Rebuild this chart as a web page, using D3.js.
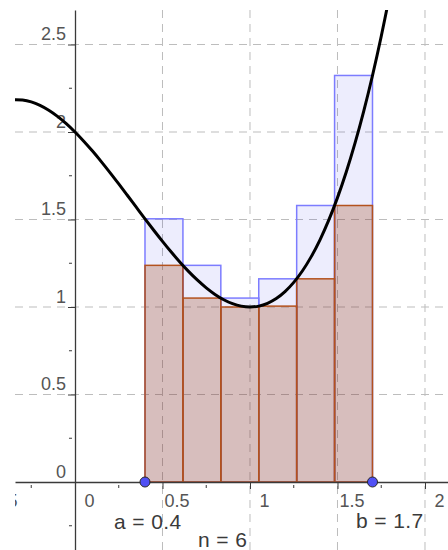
<!DOCTYPE html>
<html>
<head>
<meta charset="utf-8">
<script src="https://cdn.jsdelivr.net/npm/d3@7"></script>
<style>
  html, body { margin: 0; padding: 0; background: #fff; }
  svg { display: block; font-family: "Liberation Sans", Arial, sans-serif; }
</style>
</head>
<body>
<svg id="chart" width="448" height="550"></svg>
<script>
// ---- data ----
const pointA = 0.4;
const pointB = 1.7;
const nParts = 6;
const partitionEdges = [0.4, 0.6167, 0.8333, 1.05, 1.2667, 1.4833, 1.7];
const upperHeights = [1.504, 1.238, 1.051, 1.161, 1.580, 2.323];
const lowerHeights = [1.238, 1.051, 1.000, 1.005, 1.161, 1.580];
const curveX = [-0.35, -0.3, -0.25, -0.2, -0.15, -0.1, -0.05, 0, 0.05, 0.1, 0.15, 0.2, 0.25, 0.3, 0.35, 0.4, 0.45, 0.5, 0.55, 0.6, 0.65, 0.7, 0.75, 0.8, 0.85, 0.9, 0.95, 1.0, 1.05, 1.1, 1.15, 1.2, 1.25, 1.3, 1.35, 1.4, 1.45, 1.5, 1.55, 1.6, 1.65, 1.7, 1.75, 1.8];
const curveY = [2.1846, 2.183, 2.1719, 2.152, 2.1241, 2.089, 2.0474, 2.0, 1.9476, 1.891, 1.8309, 1.768, 1.7031, 1.637, 1.5704, 1.504, 1.4386, 1.375, 1.3139, 1.256, 1.2021, 1.153, 1.1094, 1.072, 1.0416, 1.019, 1.0049, 1.0, 1.0051, 1.021, 1.0484, 1.088, 1.1406, 1.207, 1.2879, 1.384, 1.4961, 1.625, 1.7714, 1.936, 2.1196, 2.323, 2.5469, 2.792];
const xMajorTicks = [-0.5, 0, 0.5, 1, 1.5, 2];
const xMinorTicks = [-0.25, 0.25, 0.75, 1.25, 1.75];
const yMajorTicks = [0, 0.5, 1, 1.5, 2, 2.5];
const yMinorTicks = [-0.25, 0.25, 0.75, 1.25, 1.75, 2.25];
const xTickLabels = ["-0.5", "0", "0.5", "1", "1.5", "2"];
const yTickLabels = ["0", "0.5", "1", "1.5", "2", "2.5"];
const xGrid = [0.5, 1, 1.5, 2];
const yGrid = [0.5, 1, 1.5, 2, 2.5];

// ---- layout ----
const W = 448, H = 550;
const plot = { left: 15, top: 10, right: 448, bottom: 550 };
const svg = d3.select("#chart");

const x = d3.scaleLinear().domain([-0.342857, 2.131429]).range([plot.left, plot.right]);
const y = d3.scaleLinear().domain([-0.388571, 2.697143]).range([plot.bottom, plot.top]);

svg.append("defs").append("clipPath").attr("id", "clip")
  .append("rect").attr("x", plot.left).attr("y", plot.top)
  .attr("width", plot.right - plot.left).attr("height", plot.bottom - plot.top);

const g = svg.append("g").attr("clip-path", "url(#clip)");

// grid
const gridColor = "#bdbdbd";
g.append("g").selectAll("line").data(xGrid).join("line")
  .attr("x1", d => x(d)).attr("x2", d => x(d))
  .attr("y1", plot.top).attr("y2", plot.bottom)
  .attr("stroke", gridColor).attr("stroke-width", 1).attr("stroke-dasharray", "8,6");
g.append("g").selectAll("line").data(yGrid).join("line")
  .attr("y1", d => y(d)).attr("y2", d => y(d))
  .attr("x1", plot.left).attr("x2", plot.right)
  .attr("stroke", gridColor).attr("stroke-width", 1).attr("stroke-dasharray", "8,6");

// upper sum rectangles
const bars = d3.range(nParts);
g.append("g").selectAll("rect").data(bars).join("rect")
  .attr("x", i => x(partitionEdges[i]))
  .attr("width", i => x(partitionEdges[i + 1]) - x(partitionEdges[i]))
  .attr("y", i => y(upperHeights[i]))
  .attr("height", i => y(0) - y(upperHeights[i]))
  .attr("fill", "rgb(0,0,230)").attr("fill-opacity", 0.07)
  .attr("stroke", "#7c7cff").attr("stroke-width", 1.5);

// lower sum rectangles
g.append("g").selectAll("rect").data(bars).join("rect")
  .attr("x", i => x(partitionEdges[i]))
  .attr("width", i => x(partitionEdges[i + 1]) - x(partitionEdges[i]))
  .attr("y", i => y(lowerHeights[i]))
  .attr("height", i => y(0) - y(lowerHeights[i]))
  .attr("fill", "rgb(153,51,0)").attr("fill-opacity", 0.25)
  .attr("stroke", "#b3521e").attr("stroke-width", 1.5);

// axes
const axisColor = "#3a3a3a";
const textColor = "#555";
const xAxis = d3.axisBottom(x).tickValues(xMajorTicks).tickSize(7).tickSizeOuter(0)
  .tickFormat((d, i) => xTickLabels[i]);
const xg = g.append("g").attr("transform", `translate(0,${y(0)})`).call(xAxis);
xg.select(".domain").attr("stroke", axisColor).attr("stroke-width", 1.3);
xg.selectAll(".tick line").attr("stroke", axisColor).attr("stroke-width", 1);
xg.selectAll(".tick text")
  .attr("x", 14).attr("y", 24.7).attr("dy", 0)
  .attr("text-anchor", "middle")
  .attr("fill", textColor).style("font-size", "18px")
  .style("font-family", "'Liberation Sans', Arial, sans-serif");

const yAxis = d3.axisLeft(y).tickValues(yMajorTicks).tickSize(7).tickSizeOuter(0)
  .tickFormat((d, i) => yTickLabels[i]);
const yg = g.append("g").attr("transform", `translate(${x(0)},0)`).call(yAxis);
yg.select(".domain").attr("stroke", axisColor).attr("stroke-width", 1.3);
yg.selectAll(".tick line").attr("stroke", axisColor).attr("stroke-width", 1);
yg.selectAll(".tick text")
  .attr("x", -9).attr("y", -5).attr("dy", 0)
  .attr("text-anchor", "end")
  .attr("fill", textColor).style("font-size", "18px")
  .style("font-family", "'Liberation Sans', Arial, sans-serif");

// minor ticks
g.append("g").selectAll("line").data(xMinorTicks).join("line")
  .attr("x1", d => x(d)).attr("x2", d => x(d))
  .attr("y1", y(0) + 3).attr("y2", y(0) + 6)
  .attr("stroke", axisColor).attr("stroke-width", 1);
g.append("g").selectAll("line").data(yMinorTicks).join("line")
  .attr("y1", d => y(d)).attr("y2", d => y(d))
  .attr("x1", x(0) - 6).attr("x2", x(0) - 3)
  .attr("stroke", axisColor).attr("stroke-width", 1);

// function curve
const line = d3.line()
  .x((d, i) => x(curveX[i])).y((d, i) => y(curveY[i]))
  .curve(d3.curveCatmullRom);
g.append("path").datum(curveX).attr("d", line)
  .attr("fill", "none").attr("stroke", "#000").attr("stroke-width", 3)
  .attr("stroke-linejoin", "round").attr("stroke-linecap", "round");

// points a and b
g.append("g").selectAll("circle").data([pointA, pointB]).join("circle")
  .attr("cx", d => x(d)).attr("cy", y(0)).attr("r", 5)
  .attr("fill", "#5050f5").attr("stroke", "#2a2a2a").attr("stroke-width", 1);

// labels
const labelStyle = sel => sel.attr("fill", "#3a3a3a").style("font-size", "21px")
  .style("font-family", "'Liberation Sans', Arial, sans-serif").style("letter-spacing", "0.4px");
svg.append("text").attr("x", 114).attr("y", 529).text(`a = ${pointA}`).call(labelStyle);
svg.append("text").attr("x", 356).attr("y", 528).text(`b = ${pointB}`).call(labelStyle);
svg.append("text").attr("x", 198).attr("y", 547).text(`n = ${nParts}`).call(labelStyle);
</script>
</body>
</html>
